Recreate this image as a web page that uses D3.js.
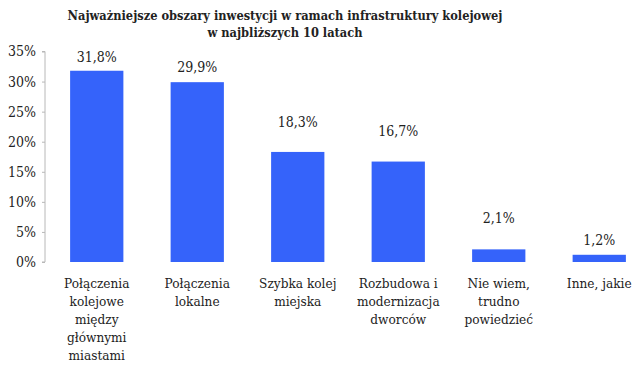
<!DOCTYPE html>
<html><head><meta charset="utf-8">
<script src="https://cdn.jsdelivr.net/npm/d3@7"></script>
<style>body{margin:0;background:#fff}svg{display:block}</style>
</head><body>
<script>
const categories = [
  ["Połączenia","kolejowe","między","głównymi","miastami"],
  ["Połączenia","lokalne"],
  ["Szybka kolej","miejska"],
  ["Rozbudowa i","modernizacja","dworców"],
  ["Nie wiem,","trudno","powiedzieć"],
  ["Inne, jakie"]
];
const values = [31.8, 29.9, 18.3, 16.7, 2.1, 1.2];
const valueLabels = ["31,8%","29,9%","18,3%","16,7%","2,1%","1,2%"];
const yTicks = [0,5,10,15,20,25,30,35];
const titleLines = ["Najważniejsze obszary inwestycji w ramach infrastruktury kolejowej","w najbliższych 10 latach"];

// label lift above bar top (layout)
const labelLift = [14, 15, 30, 31, 31, 15];

const W=640,H=368;
const svg=d3.select("body").append("svg").attr("width",W).attr("height",H);
const font="'DejaVu Serif Condensed', 'DejaVu Serif', serif";

const x=d3.scaleBand().domain(d3.range(values.length)).range([46.5,649.5]).paddingInner(0.47).paddingOuter(0.235);
const y=d3.scaleLinear().domain([0,35]).range([262,51.5]);

svg.append("g").selectAll("text").data(titleLines).join("text")
  .attr("x",285).attr("y",(d,i)=>20+i*17).attr("text-anchor","middle")
  .style("font-family",font).style("font-stretch","condensed").attr("font-weight","bold").attr("font-size",12.7).attr("fill","#222")
  .text(d=>d);

const ax=svg.append("g").attr("transform","translate(45,0)")
  .call(d3.axisLeft(y).tickValues(yTicks).tickSize(3).tickPadding(6).tickFormat(d=>d+"%"));
ax.select(".domain").attr("stroke","#b8b8b8").attr("d","M-3,"+y(35)+"H0V"+y(0)+"H-3");
ax.selectAll(".tick line").attr("stroke","#b8b8b8");
ax.selectAll(".tick text").style("font-family",font).style("font-stretch","condensed").attr("font-size",14).attr("fill","#222");

svg.append("g").selectAll("rect").data(values).join("rect")
  .attr("x",(d,i)=>x(i)).attr("width",x.bandwidth())
  .attr("y",d=>y(d)).attr("height",d=>y(0)-y(d)).attr("fill","#3563fa");

svg.append("g").selectAll("text").data(values).join("text")
  .attr("x",(d,i)=>x(i)+x.bandwidth()/2).attr("y",(d,i)=>y(d)-labelLift[i]+5)
  .attr("text-anchor","middle").style("font-family",font).style("font-stretch","condensed").attr("font-size",14).attr("fill","#222")
  .text((d,i)=>valueLabels[i]);

const cg=svg.append("g").selectAll("text").data(categories).join("text")
  .attr("text-anchor","middle").style("font-family",font).style("font-stretch","condensed").attr("font-size",13.5).attr("fill","#222");
cg.each(function(lines,i){
  d3.select(this).selectAll("tspan").data(lines).join("tspan")
    .attr("x",x(i)+x.bandwidth()/2).attr("y",(d,j)=>288+j*18).text(d=>d);
});
</script>
</body></html>
